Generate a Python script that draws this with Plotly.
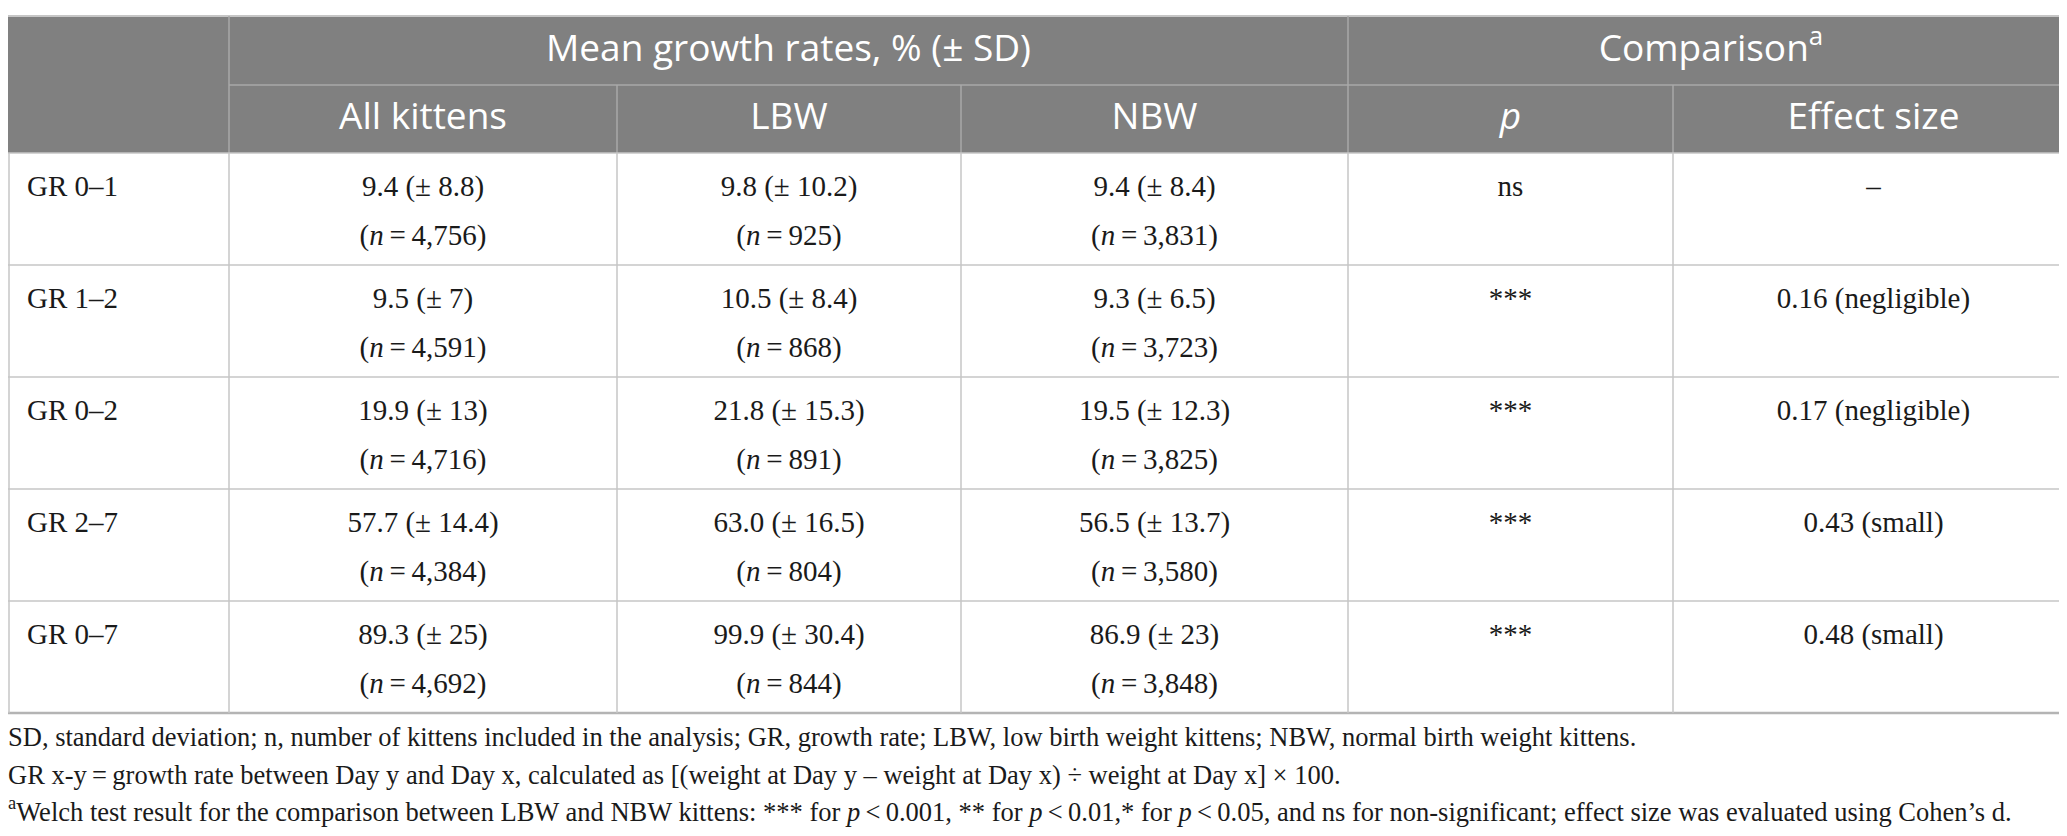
import plotly.graph_objects as go

# ---- table data ----
periods = ["GR 0–1", "GR 1–2", "GR 0–2", "GR 2–7", "GR 0–7"]

all_mean = ["9.4", "9.5", "19.9", "57.7", "89.3"]
all_sd = ["8.8", "7", "13", "14.4", "25"]
all_n = ["4,756", "4,591", "4,716", "4,384", "4,692"]

lbw_mean = ["9.8", "10.5", "21.8", "63.0", "99.9"]
lbw_sd = ["10.2", "8.4", "15.3", "16.5", "30.4"]
lbw_n = ["925", "868", "891", "804", "844"]

nbw_mean = ["9.4", "9.3", "19.5", "56.5", "86.9"]
nbw_sd = ["8.4", "6.5", "12.3", "13.7", "23"]
nbw_n = ["3,831", "3,723", "3,825", "3,580", "3,848"]

p_values = ["ns", "***", "***", "***", "***"]
effect_sizes = ["–", "0.16 (negligible)", "0.17 (negligible)", "0.43 (small)", "0.48 (small)"]

group_headers = ["Mean growth rates, % (± SD)", "Comparison<sup>a</sup>"]
col_headers = ["All kittens", "LBW", "NBW", "<i>p</i>", "Effect size"]

footnotes = [
    "SD, standard deviation; n, number of kittens included in the analysis; GR, growth rate; "
    "LBW, low birth weight kittens; NBW, normal birth weight kittens.",
    "GR x-y\u2009=\u2009growth rate between Day y and Day x, calculated as "
    "[(weight at Day y – weight at Day x) ÷ weight at Day x] × 100.",
    "<sup>a</sup>Welch test result for the comparison between LBW and NBW kittens: *** for "
    "<i>p</i>\u2009<\u20090.001, ** for <i>p</i>\u2009<\u20090.01,* for <i>p</i>\u2009<\u20090.05, "
    "and ns for non-significant; effect size was evaluated using Cohen’s d.",
]

# ---- layout (pixel grid) ----
W, H = 2067, 836
col_edges = [1, 221, 609, 953, 1340, 1665, 2066]
top, mid, head_bottom = 8, 77, 145
row_h = 112
row_edges = [head_bottom + row_h * i for i in range(len(periods) + 1)]

HEAD_FONT = "Open Sans"
BODY_FONT = "Liberation Serif"
GRID = "#c6c6c6"
HEAD_FILL = "#808080"
HEAD_LINE = "#a9a9a9"
TXT = "#1a1a1a"

centers = [(col_edges[i] + col_edges[i + 1]) / 2 for i in range(len(col_edges) - 1)]

fig = go.Figure()

# header background and lines
shapes = [dict(type="rect", x0=0, x1=W - 1, y0=top, y1=head_bottom,
               fillcolor=HEAD_FILL, line_width=0, layer="below")]
shapes.append(dict(type="line", x0=0, x1=W - 1, y0=top, y1=top, line=dict(color=GRID, width=2)))
shapes.append(dict(type="line", x0=col_edges[1], x1=W - 1, y0=mid, y1=mid,
                   line=dict(color=HEAD_LINE, width=1.5)))
for xe in (col_edges[1], col_edges[4]):
    shapes.append(dict(type="line", x0=xe, x1=xe, y0=top, y1=head_bottom,
                       line=dict(color=HEAD_LINE, width=1.5)))
for xe in (col_edges[2], col_edges[3], col_edges[5]):
    shapes.append(dict(type="line", x0=xe, x1=xe, y0=mid, y1=head_bottom,
                       line=dict(color=HEAD_LINE, width=1.5)))

# body grid
for ye in row_edges[:-1]:
    shapes.append(dict(type="line", x0=0, x1=W - 1, y0=ye, y1=ye, line=dict(color=GRID, width=1.5)))
shapes.append(dict(type="line", x0=0, x1=W - 1, y0=row_edges[-1], y1=row_edges[-1],
                   line=dict(color="#b4b4b4", width=2.5)))
for xe in col_edges:
    shapes.append(dict(type="line", x0=xe, x1=xe, y0=head_bottom, y1=row_edges[-1],
                       line=dict(color=GRID, width=1.5)))

# header text
fig.add_trace(go.Scatter(
    x=[(col_edges[1] + col_edges[4]) / 2, (col_edges[4] + col_edges[6]) / 2],
    y=[(top + mid) / 2 + 1] * 2, text=group_headers, mode="text",
    textposition="middle center",
    textfont=dict(family=HEAD_FONT, size=37, color="white"), hoverinfo="skip"))
fig.add_trace(go.Scatter(
    x=centers[1:], y=[(mid + head_bottom) / 2 + 1] * len(col_headers), text=col_headers,
    mode="text", textposition="middle center",
    textfont=dict(family=HEAD_FONT, size=37, color="white"), hoverinfo="skip"))

# body text
line1_y = [r + 36 for r in row_edges[:-1]]
line2_y = [r + 85 for r in row_edges[:-1]]
body_font = dict(family=BODY_FONT, size=29, color=TXT)

fig.add_trace(go.Scatter(
    x=[col_edges[0] + 18] * len(periods), y=line1_y, text=periods, mode="text",
    textposition="middle right", textfont=body_font, hoverinfo="skip"))

groups = [(all_mean, all_sd, all_n), (lbw_mean, lbw_sd, lbw_n), (nbw_mean, nbw_sd, nbw_n)]
for gi, (means, sds, ns) in enumerate(groups):
    cx = centers[gi + 1]
    fig.add_trace(go.Scatter(
        x=[cx] * len(means), y=line1_y,
        text=[f"{m} (± {s})" for m, s in zip(means, sds)], mode="text",
        textposition="middle center", textfont=body_font, hoverinfo="skip"))
    fig.add_trace(go.Scatter(
        x=[cx] * len(ns), y=line2_y,
        text=[f"(<i>n</i>\u2009=\u2009{n})" for n in ns], mode="text",
        textposition="middle center", textfont=body_font, hoverinfo="skip"))

fig.add_trace(go.Scatter(
    x=[centers[4]] * len(p_values), y=line1_y, text=p_values, mode="text",
    textposition="middle center", textfont=body_font, hoverinfo="skip"))
fig.add_trace(go.Scatter(
    x=[centers[5]] * len(effect_sizes), y=line1_y, text=effect_sizes, mode="text",
    textposition="middle center", textfont=body_font, hoverinfo="skip"))

# footnotes
foot_y = [731, 769, 806]
fig.add_trace(go.Scatter(
    x=[0] * len(footnotes), y=foot_y, text=footnotes, mode="text",
    textposition="middle right",
    textfont=dict(family=BODY_FONT, size=26.5, color=TXT), hoverinfo="skip"))

fig.update_layout(
    width=W, height=H, margin=dict(l=0, r=0, t=0, b=0),
    paper_bgcolor="white", plot_bgcolor="white", showlegend=False,
    shapes=shapes,
    xaxis=dict(range=[0, W], visible=False, fixedrange=True),
    yaxis=dict(range=[H, 0], visible=False, fixedrange=True),
)

fig.write_html("out.html")
